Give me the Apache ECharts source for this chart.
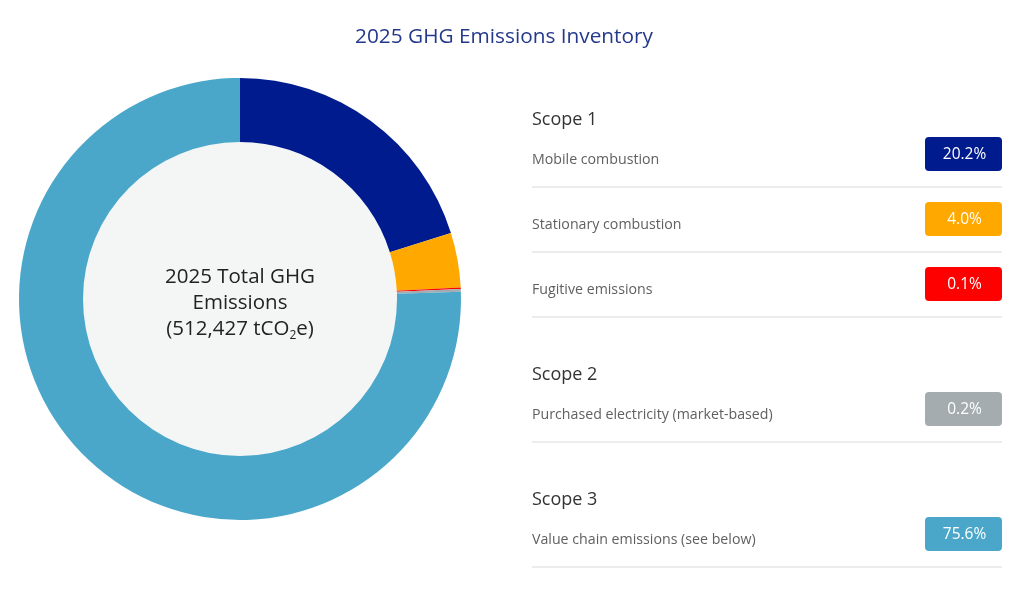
<!DOCTYPE html>
<html>

<head>
    <title>2025 GHG Emissions Inventory</title>
    <script src="https://cdn.jsdelivr.net/npm/echarts@6.0.0/dist/echarts.min.js"></script>
    <style>
        html, body { margin: 0; padding: 0; background: #fff; }
    </style>
</head>

<body>
    <div id="myChart" style="width: 1024px; height: 615px;"></div>

    <script>
        // Emission categories, in the order they appear in the ring (clockwise from 12 o'clock)
        const scopes = ['Scope 1', 'Scope 1', 'Scope 1', 'Scope 2', 'Scope 3'];
        const categories = [
            'Mobile combustion',
            'Stationary combustion',
            'Fugitive emissions',
            'Purchased electricity (market-based)',
            'Value chain emissions (see below)'
        ];
        const shares = [20.2, 4.0, 0.1, 0.2, 75.6];
        const colors = ['#001b8e', '#ffa800', '#ff0000', '#a4acaf', '#4ba7c9'];
        const totalEmissions = '512,427';

        const chartDom = document.getElementById('myChart');
        const myChart = echarts.init(chartDom);

        // Right-hand list: scope headings, row labels, value badges, separator lines
        const graphics = [];
        const listLeft = 532, listRight = 1002, badgeW = 77, badgeH = 34;
        let y = 118;
        let lastScope = null;
        categories.forEach((name, i) => {
            if (scopes[i] !== lastScope) {
                if (lastScope !== null) y += 56;
                graphics.push({
                    type: 'text', left: listLeft, top: y - 13,
                    style: { text: scopes[i], font: '18px "Open Sans"', fill: '#333' }
                });
                y += 40;
                lastScope = scopes[i];
            } else {
                y += 36;
            }
            graphics.push({
                type: 'text', left: listLeft, top: y - 10,
                style: { text: name, font: '14.2px "Open Sans"', fill: '#606060' }
            });
            graphics.push({
                type: 'rect',
                shape: { x: listRight - badgeW, y: y - badgeH / 2 - 4, width: badgeW, height: badgeH, r: 4 },
                style: { fill: colors[i] }
            });
            graphics.push({
                type: 'text',
                x: listRight - badgeW / 2 + 1, y: y - 3,
                style: {
                    text: shares[i].toFixed(1) + '%', font: '15.5px "Open Sans"', fill: '#fff',
                    align: 'center', verticalAlign: 'middle'
                }
            });
            y += 29;
            graphics.push({
                type: 'line',
                shape: { x1: listLeft, y1: y, x2: listRight, y2: y },
                style: { stroke: '#d9d9d9', lineWidth: 1 }
            });
        });

        const option = {
            backgroundColor: '#fff',
            title: {
                text: '2025 GHG Emissions Inventory',
                left: 504,
                textAlign: 'center',
                top: 20,
                textStyle: { fontFamily: 'Open Sans', fontSize: 20.8, fontWeight: 'normal', color: '#24388c' },
                padding: [0, 0, 0, 0]
            },
            graphic: graphics,
            series: [
                {
                    type: 'pie',
                    center: [240, 299],
                    radius: [0, 157],
                    silent: true,
                    itemStyle: { color: '#f4f6f6' },
                    label: {
                        show: true,
                        position: 'center',
                        padding: [8, 0, 0, 0],
                        formatter: '{a|2025 Total GHG}\n{a|Emissions}\n{a|(' + totalEmissions + ' tCO}{s|2}{a|e)}',
                        rich: {
                            a: { fontFamily: 'Open Sans', fontSize: 20.5, color: '#222', lineHeight: 26 },
                            s: { fontFamily: 'Open Sans', fontSize: 12, color: '#222', lineHeight: 26, padding: [14, 0, 0, 0] }
                        }
                    },
                    labelLine: { show: false },
                    data: [{ value: 1, name: 'total' }]
                },
                {
                    type: 'pie',
                    center: [240, 299],
                    radius: [157, 221],
                    startAngle: 90,
                    clockwise: true,
                    silent: true,
                    label: { show: false },
                    labelLine: { show: false },
                    data: categories.map((name, i) => ({
                        name: name,
                        value: shares[i],
                        itemStyle: { color: colors[i] }
                    }))
                }
            ]
        };

        myChart.setOption(option);
    </script>
</body>

</html>
